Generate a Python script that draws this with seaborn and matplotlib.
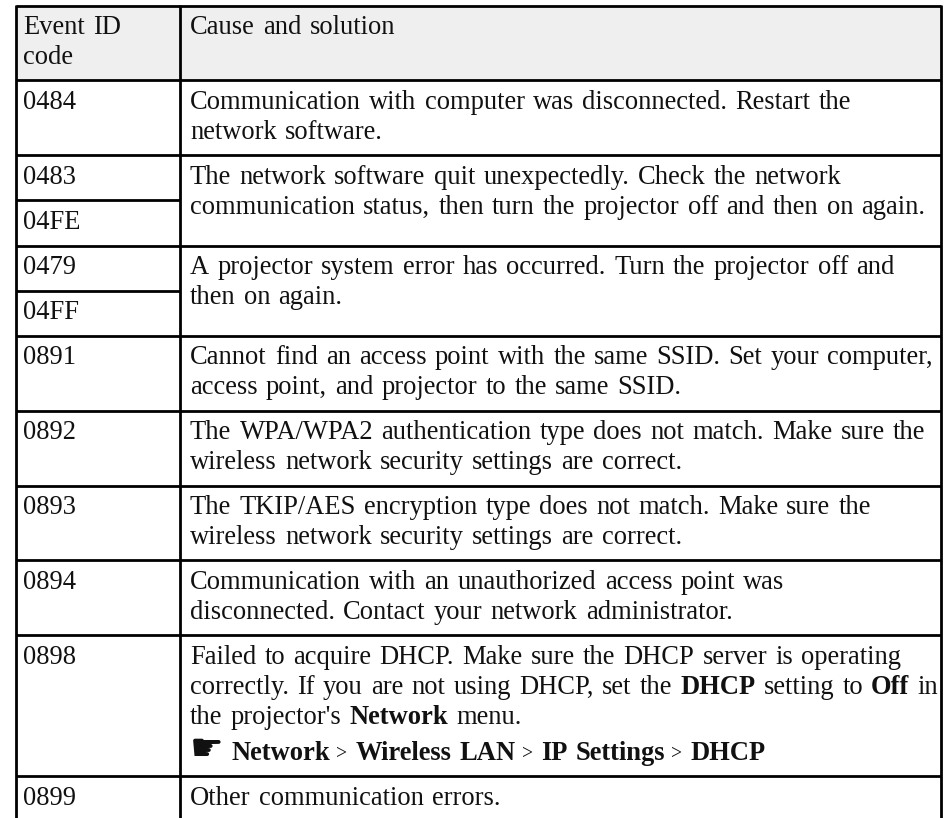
import matplotlib
matplotlib.use("Agg")
import matplotlib.pyplot as plt
import seaborn as sns
from matplotlib.colors import ListedColormap

# Table content, ** switches bold on and off
header_lines = [["Event ID", "code"], ["Cause and solution"]]
event_ids = ["0484", "0483", "04FE", "0479", "04FF", "0891", "0892", "0893", "0894", "0898", "0899"]
cause_spans = [1, 2, 2, 1, 1, 1, 1, 1, 1]
causes = [
    ["Communication with computer was disconnected. Restart the", "network software."],
    ["The network software quit unexpectedly. Check the network",
     "communication status, then turn the projector off and then on again."],
    ["A projector system error has occurred. Turn the projector off and", "then on again."],
    ["Cannot find an access point with the same SSID. Set your computer,",
     "access point, and projector to the same SSID."],
    ["The WPA/WPA2 authentication type does not match. Make sure the",
     "wireless network security settings are correct."],
    ["The TKIP/AES encryption type does not match. Make sure the",
     "wireless network security settings are correct."],
    ["Communication with an unauthorized access point was",
     "disconnected. Contact your network administrator."],
    ["Failed to acquire DHCP. Make sure the DHCP server is operating",
     "correctly. If you are not using DHCP, set the **DHCP** setting to **Off** in",
     "the projector's **Network** menu.",
     "☛ **Network** > **Wireless LAN** > **IP Settings** > **DHCP**"],
    ["Other communication errors."],
]

W, H = 948, 818
FONT = "Liberation Serif"
SIZE = 19.1
SPACE_EXTRA = 1.6
INK = "#111111"

sns.set_theme(style="white")
fig = plt.figure(figsize=(W / 100, H / 100), dpi=100, facecolor="white")

LEFT, DIVIDER, RIGHT = 16, 180, 941.5
TOP = 5.5
LINE_STEP = 29.8
ROW_PAD = 15.3
HAND_EXTRA = 36
BASE_OFFSET = 28.6


def block_height(lines):
    extra = HAND_EXTRA - LINE_STEP if lines[-1].startswith("☛") else 0
    return ROW_PAD + LINE_STEP * len(lines) + extra


# Header shading goes through a one row heatmap
header_h = block_height(header_lines[0])
shade_ax = fig.add_axes([LEFT / W, 1 - (TOP + header_h) / H, (RIGHT - LEFT) / W, header_h / H])
sns.heatmap([[1]], ax=shade_ax, cbar=False, cmap=ListedColormap(["#efefef"]),
            xticklabels=False, yticklabels=False)

ax = fig.add_axes([0, 0, 1, 1], facecolor="none")
ax.set_xlim(0, W)
ax.set_ylim(H, 0)
ax.axis("off")

renderer = fig.canvas.get_renderer()
probe = ax.text(0, 0, "n n", family=FONT, fontsize=SIZE)
probe2 = ax.text(0, 0, "nn", family=FONT, fontsize=SIZE)
space = probe.get_window_extent(renderer).width - probe2.get_window_extent(renderer).width + SPACE_EXTRA
probe.remove()
probe2.remove()


def draw_line(x, baseline, line):
    for i, part in enumerate(line.split("**")):
        weight = "bold" if i % 2 == 1 else "normal"
        if part.startswith(" "):
            x += space
        for word in part.split():
            if word == "☛":
                t = ax.text(x, baseline + 0.5, word, family="DejaVu Sans", fontsize=SIZE + 8,
                            color=INK, va="baseline")
            elif word == ">":
                # the breadcrumb arrow is narrow in the original
                x -= 2.5
                t = ax.text(x, baseline - 1, word, family=FONT, fontsize=SIZE - 5,
                            color=INK, va="baseline")
            else:
                t = ax.text(x, baseline, word, family=FONT, fontsize=SIZE, weight=weight,
                            color=INK, va="baseline")
            x += t.get_window_extent(renderer).width + space
        x -= space
        if part.endswith(" "):
            x += space


y = TOP
line_w = 2.0
for lines_col, tx in zip(header_lines, (23, 190)):
    for j, line in enumerate(lines_col):
        draw_line(tx, y + BASE_OFFSET + LINE_STEP * j, line)
y += header_h

id_index = 0
for span, lines in zip(cause_spans, causes):
    ax.hlines(y, LEFT, RIGHT, color="black", lw=line_w)
    for j, line in enumerate(lines):
        step = LINE_STEP * j
        if line.startswith("☛"):
            step += HAND_EXTRA - LINE_STEP
        draw_line(190, y + BASE_OFFSET + step, line)
    if span == 1:
        draw_line(23, y + BASE_OFFSET, event_ids[id_index])
        id_index += 1
        y += block_height(lines)
    else:
        for k in range(span):
            if k > 0:
                ax.hlines(y, LEFT, DIVIDER, color="black", lw=line_w)
            draw_line(23, y + BASE_OFFSET, event_ids[id_index])
            id_index += 1
            y += block_height(["x"])

ax.hlines(TOP, LEFT, RIGHT, color="black", lw=line_w)
ax.vlines([LEFT, DIVIDER, RIGHT], TOP - 1, H, color="black", lw=line_w)

fig.savefig("out.png", dpi=100)
